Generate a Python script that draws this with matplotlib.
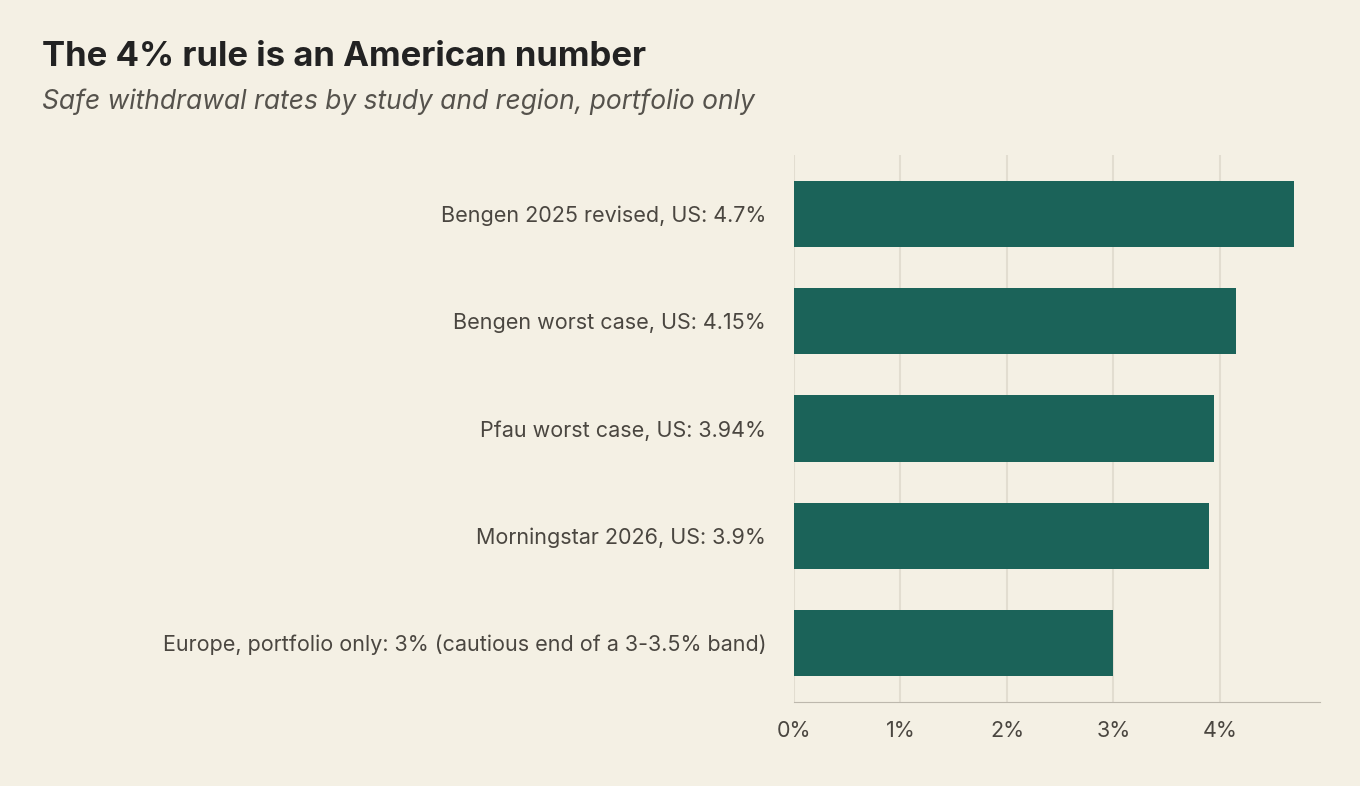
import matplotlib
matplotlib.use("Agg")
import matplotlib.pyplot as plt

labels = ["Bengen 2025 revised, US: 4.7%", "Bengen worst case, US: 4.15%",
          "Pfau worst case, US: 3.94%", "Morningstar 2026, US: 3.9%",
          "Europe, portfolio only: 3% (cautious end of a 3-3.5% band)"]
values = [4.7, 4.15, 3.94, 3.9, 3.0]
ticks = [0, 1, 2, 3, 4]
tick_labels = ["0%", "1%", "2%", "3%", "4%"]

plt.rcParams['font.family'] = ['Inter', 'DejaVu Sans']
bg = "#f4f0e4"
fig = plt.figure(figsize=(13.6, 7.86), dpi=100, facecolor=bg)
ax = fig.add_axes([794/1360, 1-702/786, (1320-794)/1360, (702-155)/786], facecolor=bg)
y = list(range(len(values)))
ax.barh(y, values, height=0.62, color="#1b6359", zorder=3)
ax.set_ylim(len(values)-0.45, -0.55)
ax.set_xlim(0, 4.94)
ax.set_yticks(y)
ax.set_yticklabels(labels, fontsize=15.5, color="#4a4640")
ax.set_xticks(ticks)
ax.set_xticklabels(tick_labels, fontsize=15.5, color="#4a4640")
ax.tick_params(length=0, pad=14)
ax.tick_params(axis='y', pad=20)
ax.grid(axis='x', color="#e2ddd0", linewidth=1.5, zorder=0)
for s in ["top", "right", "left"]:
    ax.spines[s].set_visible(False)
ax.spines["bottom"].set_color("#bdb8ad")
fig.text(42/1360, 1-57/786, "The 4% rule is an American number", fontsize=25,
         fontweight="bold", color="#222222", va="center")
fig.text(42/1360, 1-102/786, "Safe withdrawal rates by study and region, portfolio only",
         fontsize=19, style="italic", color="#55524c", va="center")
fig.savefig("out.png", dpi=100, facecolor=bg)
